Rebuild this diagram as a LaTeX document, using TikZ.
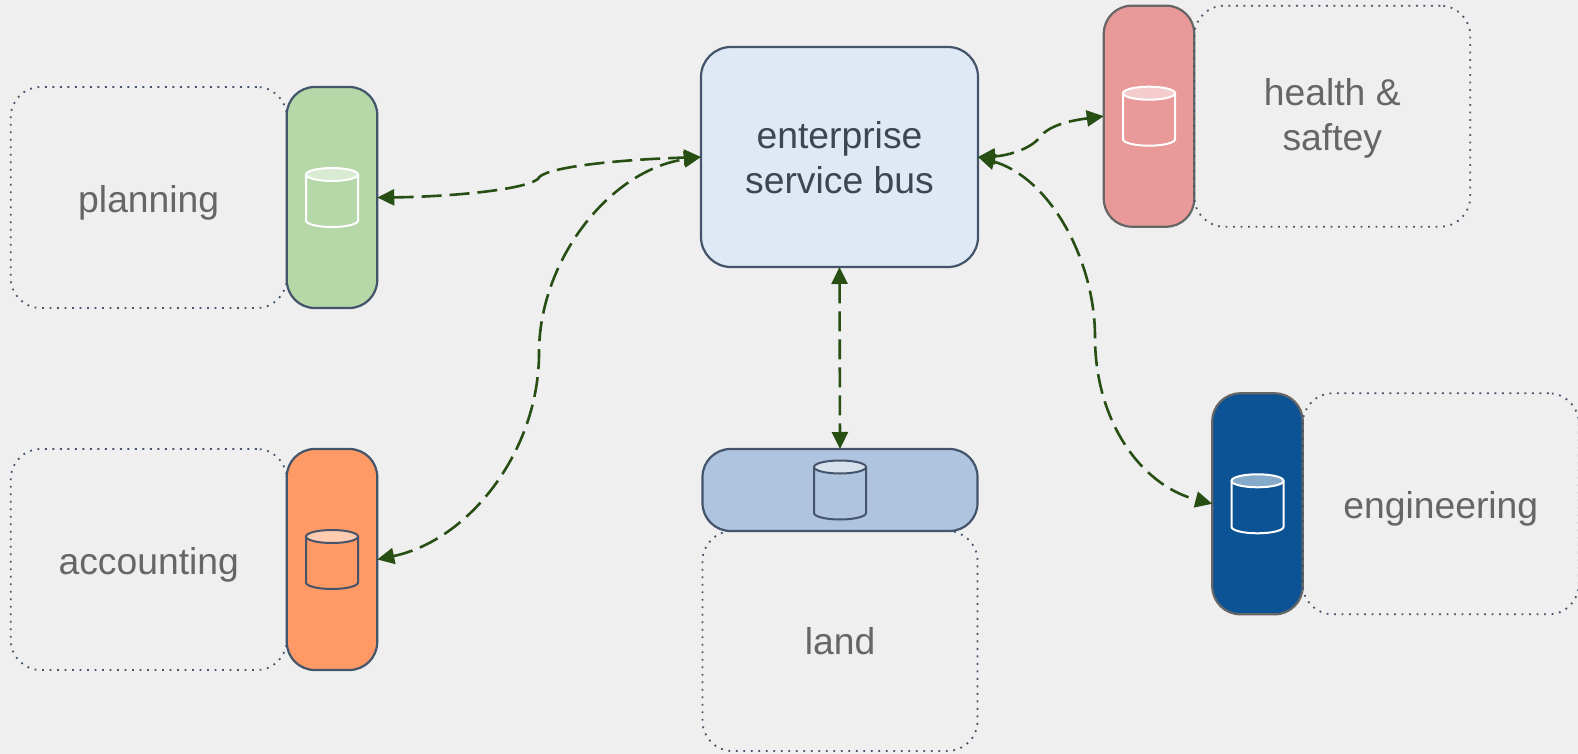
\documentclass[tikz,border=0pt]{standalone}
\usepackage{fontspec}
\setmainfont{Liberation Sans}
\usetikzlibrary{positioning,arrows.meta}
\definecolor{bgcol}{HTML}{EFEFEF}
\definecolor{slate}{HTML}{44546A}
\definecolor{greyline}{HTML}{666666}
\definecolor{linkcol}{HTML}{274E13}
\definecolor{esbfill}{HTML}{DEE9F5}
\definecolor{esbtext}{HTML}{3F4650}
\definecolor{planfill}{HTML}{B6D7A8}
\definecolor{acctfill}{HTML}{FF9966}
\definecolor{hsfill}{HTML}{EA9999}
\definecolor{engfill}{HTML}{0B5394}
\definecolor{landfill}{HTML}{AFC4DE}
\tikzset{
	store/.style={draw=#1,line width=2.2pt,rounded corners=28pt,inner sep=0pt,outer sep=0pt,minimum width=90.5pt,minimum height=221pt},
	area/.style={draw=slate,line width=1.8pt,dash pattern=on 1.8pt off 5.7pt,rounded corners=30pt,inner sep=0pt,outer sep=0pt,minimum width=276pt,minimum height=221pt,text=greyline,align=center,font=\fontsize{37.3}{45.5}\selectfont},
	oneline/.style={text depth=0pt,text height=#1},
	pics/dbcyl/.style 2 args={code={
		\draw[fill=#1,draw=#2,line width=2pt] (-26,-23) -- (-26,23) arc[start angle=180,end angle=360,x radius=26pt,y radius=6.5pt] -- (26,-23);
		\draw[fill=#1!50!white,draw=#2,line width=2pt] (0,-23) ellipse[x radius=26pt,y radius=6.5pt];
	}},
	link/.style={{Triangle[length=17pt,width=16pt]}-{Triangle[length=17pt,width=16pt]},draw=linkcol,fill=none,line width=2.6pt,dash pattern=on 20pt off 8pt},
}
\begin{document}
\begin{tikzpicture}[x=1pt,y=-1pt]
		\useasboundingbox[fill=bgcol] (0,0) rectangle (1578,754);
		\node[store=slate,fill=esbfill,minimum width=277pt,minimum height=220pt,rounded corners=30pt,text=esbtext,align=center,font=\fontsize{37.3}{45.5}\selectfont] (esb) at (839.5,157) {\rule{0pt}{28pt}enterprise\\service bus};
		\node[store=slate,fill=planfill] (ps) at (332,197.5) {};
		\node[store=slate,fill=acctfill] (as) at (332,559.5) {};
		\node[store=greyline,fill=hsfill] (hs) at (1149,116.2) {};
		\node[store=greyline,fill=engfill] (es) at (1257.5,503.8) {};
		\node[store=slate,fill=landfill,minimum width=275pt,minimum height=82pt] (ls) at (840,490) {};
		\draw
		node[area,oneline=29pt,left=0pt of ps] (pa) {planning}
		node[area,oneline=29pt,left=0pt of as] (aa) {accounting}
		node[area,right=0pt of hs] (ha) {\rule{0pt}{31pt}health \&\\saftey}
		node[area,oneline=29pt,right=0pt of es] (ea) {engineering}
		node[area,oneline=27pt,below=0pt of ls,minimum width=275pt,minimum height=220pt] (la) {land};
		\pic (pc) at (ps) {dbcyl={planfill}{white}};
		\pic (ac) at (as) {dbcyl={acctfill}{slate}};
		\pic (hc) at (hs) {dbcyl={hsfill}{white}};
		\pic (ec) at (es) {dbcyl={engfill}{white}};
		\pic (lc) at (ls) {dbcyl={landfill}{slate}};
		\coordinate (pk) at (538,179);
		\coordinate (ak) at (539,353);
		\coordinate (hk) at (1040,137);
		\coordinate (ek) at (1095,337);
		\draw[link] (ps.east) .. controls (440,197) and (522,191) .. (pk) .. controls (541,168) and (610,160) .. (esb.west);
		\draw[link] (as.east) .. controls (470,540) and (539,450) .. (ak) .. controls (539,260) and (610,170) .. (esb.west);
		\draw[link] (esb.east) .. controls (1005,156) and (1030,150) .. (hk) .. controls (1050,124) and (1075,120) .. (hs.west);
		\draw[link] (esb.east) .. controls (1050,178) and (1095,260) .. (ek) .. controls (1095,420) and (1140,485) .. (es.west);
		\draw[link] (esb.south) -- (ls.north);
	\end{tikzpicture}
\end{document}
